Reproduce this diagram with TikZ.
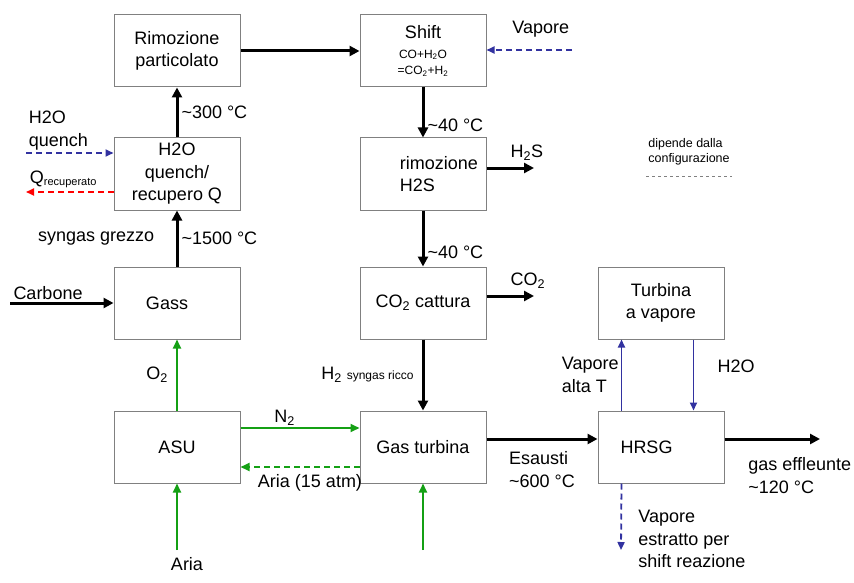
\documentclass[tikz,border=0pt]{standalone}
\usepackage{fontspec}
\setmainfont{Liberation Sans}
\usetikzlibrary{arrows.meta, positioning}
\definecolor{verdeO}{RGB}{20,160,20}
\definecolor{bluV}{RGB}{50,50,160}
\definecolor{rossoQ}{RGB}{255,0,0}
\newcommand{\piccolo}{\fontsize{12}{14}\selectfont}

\begin{document}
\begin{tikzpicture}[x=1pt, y=-1pt, font=\fontsize{18}{22.5}\selectfont,
  blocco/.style={draw=gray, line width=1pt, minimum width=126pt, minimum height=72pt, align=center},
  nero/.style={line width=3pt, -{Triangle[length=10pt,width=10pt]}},
  aria/.style={draw=verdeO, line width=2pt, -{Triangle[length=9pt,width=8pt]}},
  acqua/.style={draw=bluV, line width=1.8pt, -{Triangle[length=8pt,width=7pt]}},
  tratto/.style={dash pattern=on 6pt off 4pt}]
\useasboundingbox (0,0) rectangle (854,583);

\node[blocco] (rim) at (177,51) {Rimozione\\particolato};
\node[blocco, below=50pt of rim] (quench) {H2O\\quench/\\recupero Q};
\node[blocco, below=56pt of quench] (gass) {Gass\hspace*{20pt}};
\node[blocco, below=71pt of gass] (asu) {ASU};
\node[blocco, right=119pt of rim] (shift) {Shift\\[-3pt]{\piccolo CO+H\textsubscript{2}O}\\[-6pt]{\piccolo =CO\textsubscript{2}+H\textsubscript{2}}};
\node[blocco, right=119pt of quench, align=left] (h2s) {\hspace*{32pt}rimozione\\\hspace*{32pt}H2S};
\node[blocco, right=119pt of gass] (co2) {CO\textsubscript{2} cattura};
\node[blocco, right=119pt of asu] (gasturb) {Gas turbina};
\node[blocco, right=111pt of co2] (turbv) {Turbina\\a vapore};
\node[blocco, right=111pt of gasturb] (hrsg) {HRSG\hspace*{29pt}};

\node[font=\fontsize{12.5}{15}\selectfont, align=left, inner sep=2pt] (legenda) at (689,152) {dipende dalla\\configurazione};
\draw[gray, line width=0.8pt, dash pattern=on 3pt off 3pt] ([yshift=-9pt]legenda.south west) -- ([yshift=-9pt]legenda.south east);

\coordinate (carbIn) at (10,303);
\coordinate (h2oIn) at (26,153);
\coordinate (qOut) at (26,192);
\coordinate (vapIn) at (572,50);
\coordinate (h2sOut) at (534,168);
\coordinate (co2Out) at (534,296);
\coordinate (ariaIn) at (177,550);
\coordinate (ariaGT) at (423,550);
\coordinate (gasOut) at (820,439);
\coordinate (vapOut) at (621,550);

% linea gas
\draw[nero] (carbIn) -- (carbIn -| gass.west) node[pos=0, above right, inner sep=2pt] {Carbone};
\draw[nero] (gass) -- (quench) node[midway, right, inner sep=3pt] {\textasciitilde 1500 °C} node[midway, left=18pt] {syngas grezzo};
\draw[nero] (quench) -- (rim) node[midway, right, inner sep=3pt] {\textasciitilde 300 °C};
\draw[nero] (rim) -- (shift);
\draw[nero] (shift) -- (h2s) node[pos=0.75, right, inner sep=3pt] {\textasciitilde 40 °C};
\draw[nero] (h2s) -- (co2) node[pos=0.75, right, inner sep=3pt] {\textasciitilde 40 °C};
\draw[nero] (h2s.east |- h2sOut) -- (h2sOut) node[pos=1, above left, xshift=14pt, yshift=3pt] {H\textsubscript{2}S};
\draw[nero] (co2.east |- co2Out) -- (co2Out) node[pos=1, above left, xshift=16pt, yshift=3pt] {CO\textsubscript{2}};
\draw[nero] (co2) -- (gasturb) node[midway, left, inner sep=8pt] {H\textsubscript{2} {\piccolo syngas ricco}};
\draw[nero] (gasturb.east |- gasOut) -- (hrsg.west |- gasOut) node[midway, below, align=left, yshift=-8pt] {Esausti\\\textasciitilde 600 °C};
\draw[nero] (hrsg.east |- gasOut) -- (gasOut) node[pos=0, anchor=north west, align=left, xshift=19pt, yshift=-14pt] {gas effleunte\\\textasciitilde 120 °C};

% acqua e vapore
\draw[acqua, tratto] (h2oIn) -- (h2oIn -| quench.west) node[pos=0, above right, align=left, inner sep=2pt] {H2O\\quench};
\draw[draw=rossoQ, line width=1.8pt, tratto, -{Triangle[length=8pt,width=7pt]}] (qOut -| quench.west) -- (qOut) node[pos=1, above right, inner sep=3pt] {Q\raisebox{-2pt}{\fontsize{11}{12}\selectfont recuperato}};
\draw[acqua, tratto] (vapIn) -- (vapIn -| shift.east) node[pos=0, above left, inner sep=2pt, yshift=10pt] {Vapore};
\draw[acqua] ([xshift=24pt]hrsg.north west) -- ([xshift=24pt]turbv.south west) node[midway, left, align=left, inner sep=2pt] {Vapore\\alta T};
\draw[acqua] ([xshift=-31pt]turbv.south east) -- ([xshift=-31pt]hrsg.north east) node[midway, right=20pt, yshift=9pt] {H2O};
\draw[acqua, tratto] ([xshift=24pt]hrsg.south west) -- (vapOut) node[pos=0, anchor=north west, align=left, xshift=16pt, yshift=-26pt, inner sep=0pt] {Vapore\\estratto per\\shift reazione};

% aria
\draw[aria] (asu) -- (gass) node[midway, left, inner sep=8pt] {O\textsubscript{2}};
\draw[aria] (ariaIn) -- (asu) node[pos=0, below, xshift=10pt, inner sep=6pt] {Aria};
\draw[aria] ([yshift=19pt]asu.east) -- ([yshift=19pt]gasturb.west) node[pos=0.37, above, inner sep=2pt] {N\textsubscript{2}};
\draw[aria, tratto] ([yshift=-20pt]gasturb.west) -- ([yshift=-20pt]asu.east) node[midway, below, xshift=10pt, inner sep=6pt] {Aria (15 atm)};
\draw[aria] (ariaGT) -- (gasturb);
\end{tikzpicture}
\end{document}
